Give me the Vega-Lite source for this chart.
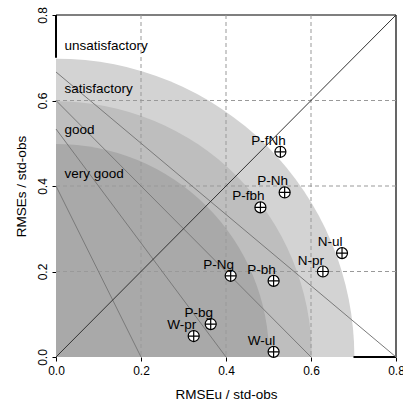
{
  "$schema": "https://vega.github.io/schema/vega-lite/v6.json",
  "width": 340,
  "height": 342,
  "autosize": {"type": "none"},
  "padding": {"left": 56, "top": 15, "right": 7, "bottom": 44},
  "config": {
    "font": "Liberation Sans",
    "view": {"stroke": null},
    "axis": {
      "grid": false,
      "domain": false,
      "tickColor": "#000000",
      "tickSize": 4,
      "labelFontSize": 12,
      "labelColor": "#000000",
      "labelFont": "Liberation Sans",
      "titleFont": "Liberation Sans",
      "titleFontSize": 13.5,
      "titleFontWeight": "normal",
      "titleColor": "#000000"
    }
  },
  "layer": [
    {
      "data": {"values": [
        {"r": 0.7, "zone": "satisfactory"},
        {"r": 0.6, "zone": "good"},
        {"r": 0.5, "zone": "very good"}
      ]},
      "mark": {"type": "arc", "theta": 0, "theta2": 1.5707963, "clip": false},
      "encoding": {
        "x": {"datum": 0, "type": "quantitative",
          "scale": {"domain": [0, 0.8], "nice": false, "zero": true},
          "axis": {"values": [0, 0.2, 0.4, 0.6, 0.8], "format": ".1f", "labelPadding": 4, "labelFlush": false,
            "title": "RMSEu / std-obs", "titleBaseline": "alphabetic", "titleY": 41}},
        "y": {"datum": 0, "type": "quantitative",
          "scale": {"domain": [0, 0.8], "nice": false, "zero": true},
          "axis": {"values": [0, 0.2, 0.4, 0.6, 0.8], "format": ".1f", "labelAngle": -90, "labelAlign": "center",
            "labelBaseline": "alphabetic", "labelPadding": 6, "labelFlush": false,
            "title": "RMSEs / std-obs", "titleBaseline": "alphabetic", "titleX": -31}},
        "radius": {"field": "r", "type": "quantitative", "stack": null,
          "scale": {"type": "linear", "domain": [0, 0.8], "range": [0, 341], "zero": true}},
        "fill": {"field": "zone", "type": "nominal",
          "scale": {"domain": ["satisfactory", "good", "very good"], "range": ["#d3d3d3", "#bebebe", "#a9a9a9"]},
          "legend": null}
      }
    },
    {
      "data": {"values": [
        {"x1": 0, "y1": 0.8, "x2": 0.8, "y2": 0.8, "w": "thin"},
        {"x1": 0.8, "y1": 0, "x2": 0.8, "y2": 0.8, "w": "thin"},
        {"x1": 0, "y1": 0.7, "x2": 0, "y2": 0.8, "w": "thick"},
        {"x1": 0.7, "y1": 0, "x2": 0.8, "y2": 0, "w": "thick"}
      ]},
      "mark": {"type": "rule", "stroke": "#000000"},
      "encoding": {
        "x": {"field": "x1", "type": "quantitative"},
        "y": {"field": "y1", "type": "quantitative"},
        "x2": {"field": "x2"},
        "y2": {"field": "y2"},
        "strokeWidth": {"field": "w", "type": "nominal", "scale": {"domain": ["thin", "thick"], "range": [1.2, 2]}, "legend": null}
      }
    },
    {
      "data": {"values": [{"v": 0.2}, {"v": 0.4}, {"v": 0.6}]},
      "mark": {"type": "rule", "stroke": "#999999", "strokeWidth": 1, "strokeDash": [4, 3]},
      "encoding": {"x": {"field": "v", "type": "quantitative"}}
    },
    {
      "data": {"values": [{"v": 0.2}, {"v": 0.4}, {"v": 0.6}]},
      "mark": {"type": "rule", "stroke": "#999999", "strokeWidth": 1, "strokeDash": [4, 3]},
      "encoding": {"y": {"field": "v", "type": "quantitative"}}
    },
    {
      "data": {"values": [
        {"x1": 0, "y1": 0.4, "x2": 0.2, "y2": 0},
        {"x1": 0, "y1": 0.5333, "x2": 0.4, "y2": 0},
        {"x1": 0, "y1": 0.6, "x2": 0.6, "y2": 0},
        {"x1": 0, "y1": 0.6667, "x2": 0.8, "y2": 0}
      ]},
      "mark": {"type": "rule", "stroke": "#7a7a7a", "strokeWidth": 1},
      "encoding": {
        "x": {"field": "x1", "type": "quantitative"},
        "y": {"field": "y1", "type": "quantitative"},
        "x2": {"field": "x2"},
        "y2": {"field": "y2"}
      }
    },
    {
      "data": {"values": [{"x1": 0, "y1": 0, "x2": 0.8, "y2": 0.8}]},
      "mark": {"type": "rule", "stroke": "#333333", "strokeWidth": 1},
      "encoding": {
        "x": {"field": "x1", "type": "quantitative"},
        "y": {"field": "y1", "type": "quantitative"},
        "x2": {"field": "x2"},
        "y2": {"field": "y2"}
      }
    },
    {
      "data": {"values": [
        {"label": "unsatisfactory", "x": 0.02, "y": 0.728},
        {"label": "satisfactory", "x": 0.02, "y": 0.628},
        {"label": "good", "x": 0.02, "y": 0.53},
        {"label": "very good", "x": 0.02, "y": 0.428}
      ]},
      "mark": {"type": "text", "align": "left", "baseline": "middle", "fontSize": 13.5, "color": "#000000"},
      "encoding": {
        "x": {"field": "x", "type": "quantitative"},
        "y": {"field": "y", "type": "quantitative"},
        "text": {"field": "label"}
      }
    },
    {
      "data": {"name": "pts", "values": [
        {"name": "P-fNh", "u": 0.528, "s": 0.48},
        {"name": "P-Nh", "u": 0.538, "s": 0.385},
        {"name": "P-fbh", "u": 0.481, "s": 0.35},
        {"name": "N-ul", "u": 0.673, "s": 0.243},
        {"name": "N-pr", "u": 0.628, "s": 0.2},
        {"name": "P-Ng", "u": 0.411, "s": 0.19},
        {"name": "P-bh", "u": 0.512, "s": 0.178},
        {"name": "W-ul", "u": 0.512, "s": 0.012},
        {"name": "P-bg", "u": 0.364, "s": 0.077},
        {"name": "W-pr", "u": 0.324, "s": 0.049}
      ]},
      "layer": [
        {
          "mark": {"type": "point", "shape": "circle", "size": 121, "filled": false, "fill": "#ffffff", "fillOpacity": 1, "stroke": "#000000", "strokeWidth": 1.2, "opacity": 1},
          "encoding": {
            "x": {"field": "u", "type": "quantitative"},
            "y": {"field": "s", "type": "quantitative"}
          }
        },
        {
          "mark": {"type": "point", "shape": "M-1,0L1,0M0,-1L0,1", "size": 121, "filled": false, "stroke": "#000000", "strokeWidth": 1.2, "opacity": 1},
          "encoding": {
            "x": {"field": "u", "type": "quantitative"},
            "y": {"field": "s", "type": "quantitative"}
          }
        },
        {
          "mark": {"type": "text", "align": "center", "baseline": "middle", "dx": -12, "dy": -11, "fontSize": 13.5, "color": "#000000"},
          "encoding": {
            "x": {"field": "u", "type": "quantitative"},
            "y": {"field": "s", "type": "quantitative"},
            "text": {"field": "name"}
          }
        }
      ]
    }
  ]
}
